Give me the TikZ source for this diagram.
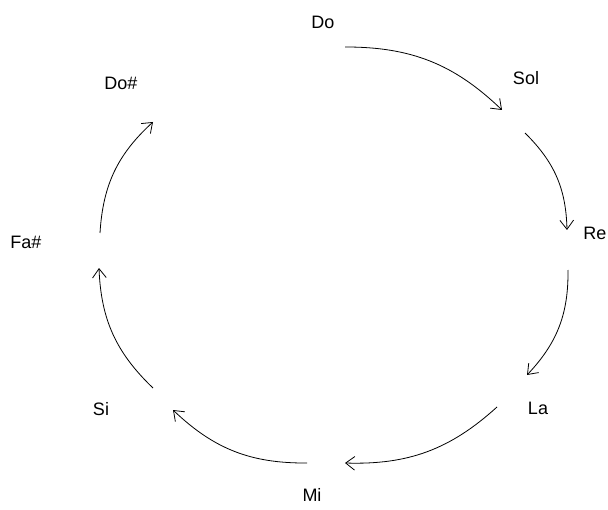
\documentclass[tikz,border=0pt]{standalone}
\usepackage{fontspec}
\setmainfont{Liberation Sans}
\usetikzlibrary{arrows.meta}
\tikzset{
  % thin lines and open barbs, as in the circle drawing
  every picture/.append style = {line width=0.6pt, >={Straight Barb[length=2.4mm, width=3.6mm]}},
  note/.style    = {font=\fontsize{13.5}{15}\selectfont, inner sep=0pt},
  fifth/.style   = {->, bend left=22},
}

\begin{document}
\begin{tikzpicture}[x=0.75pt,y=0.75pt]
  \useasboundingbox (0,0) rectangle (608,-510);
  % --- the notes ---------------------------------------------------------
  \node[note] (do)  at (323,-22)  {Do};
  \node[note] (sol) at (526,-78)  {Sol};
  \node[note] (re)  at (595,-233) {Re};
  \node[note] (la)  at (538,-408) {La};
  \node[note] (mi)  at (312,-495) {Mi};
  \node[note] (si)  at (101,-409) {Si};
  \node[note] (fas) at (26,-242)  {Fa\#};
  \node[note] (dos) at (121,-83)  {Do\#};
  % --- ends of the arrows on the circle ----------------------------------
  \coordinate (doA)  at (345,-47);   \coordinate (solB) at (502,-110);
  \coordinate (solA) at (525,-133);  \coordinate (reB)  at (567,-230);
  \coordinate (reA)  at (568,-270);  \coordinate (laB)  at (527,-375);
  \coordinate (laA)  at (497,-407);  \coordinate (miB)  at (345,-463);
  \coordinate (miA)  at (307,-463);  \coordinate (siB)  at (173,-410);
  \coordinate (siA)  at (153,-388);  \coordinate (fasB) at (99,-268);
  \coordinate (fasA) at (100,-233);  \coordinate (dosB) at (153,-122);
  % --- circle of fifths --------------------------------------------------
  \draw[fifth] (doA)  to (solB);
  \draw[fifth] (solA) to (reB);
  \draw[fifth] (reA)  to (laB);
  \draw[fifth] (laA)  to (miB);
  \draw[fifth] (miA)  to (siB);
  \draw[fifth] (siA)  to (fasB);
  \draw[fifth] (fasA) to (dosB);
\end{tikzpicture}
\end{document}
